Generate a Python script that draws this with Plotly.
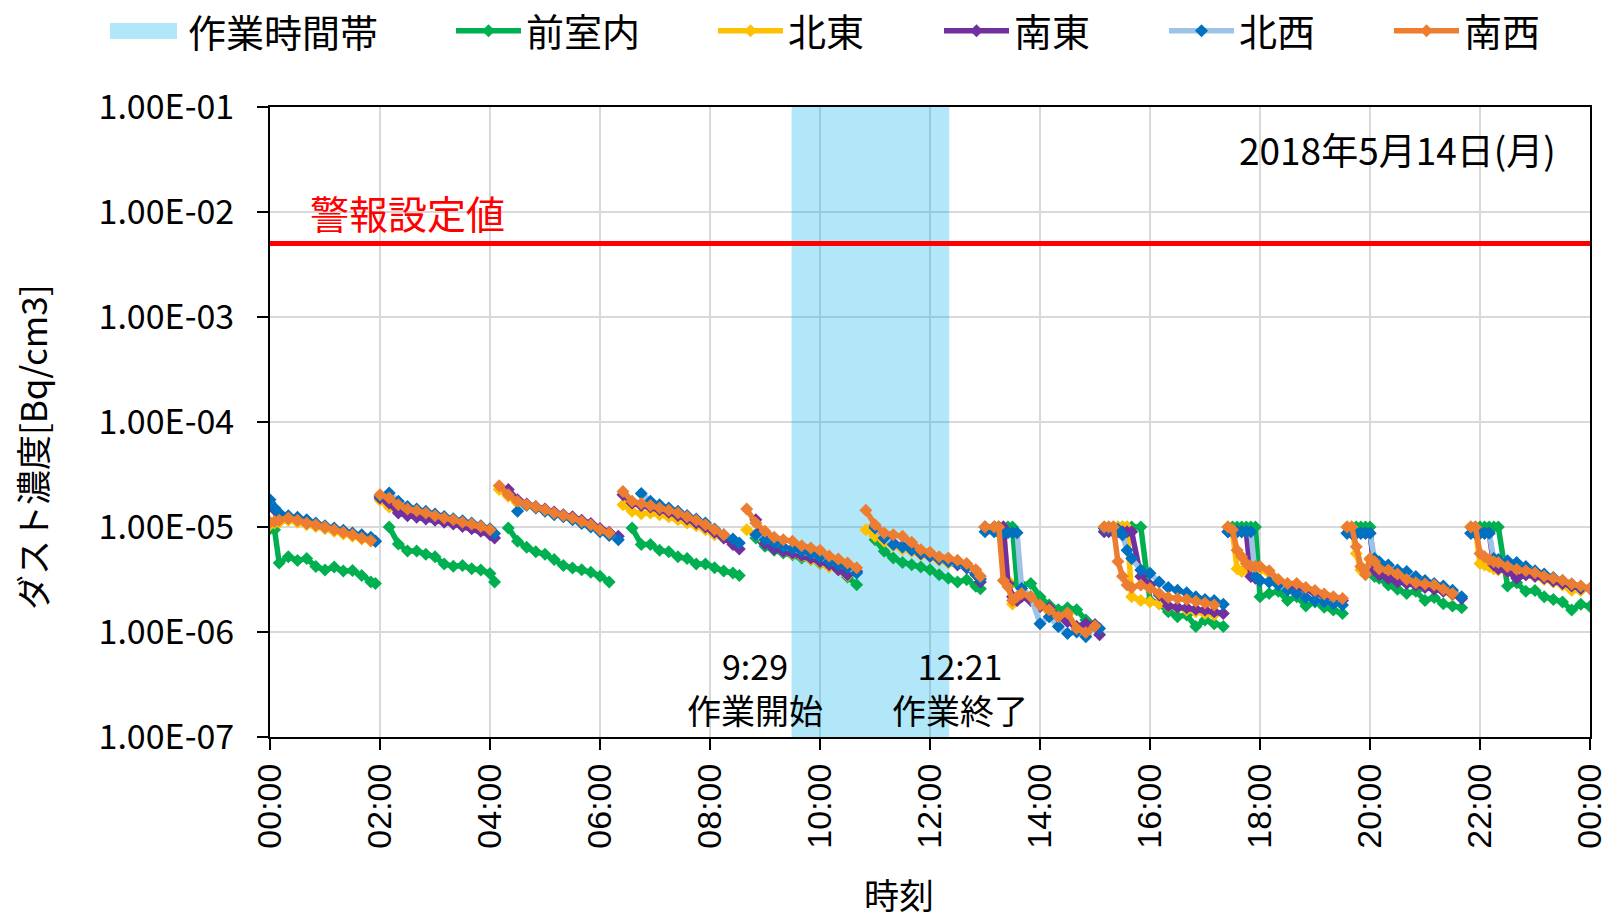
import plotly.graph_objects as go

UNIT = 1e-5  # values below are in units of 1e-5 Bq/cm3

# ---- time grid of each measurement segment ----
seg_times = [
    ["00:00","00:05","00:10","00:20","00:30","00:40","00:50","01:00","01:10","01:20","01:30","01:40","01:50","01:55"],
    ["02:00","02:10","02:20","02:30","02:40","02:50","03:00","03:10","03:20","03:30","03:40","03:50","04:00","04:05"],
    ["04:10","04:20","04:30","04:40","04:50","05:00","05:10","05:20","05:30","05:40","05:50","06:00","06:10","06:20"],
    ["06:25","06:35","06:45","06:55","07:05","07:15","07:25","07:35","07:45","07:55","08:05","08:15","08:25","08:32"],
    ["08:40","08:50","09:00","09:10","09:20","09:30","09:40","09:50","10:00","10:10","10:20","10:30","10:40"],
    ["10:50","11:00","11:10","11:20","11:30","11:40","11:50","12:00","12:10","12:20","12:30","12:40","12:50","12:55"],
    ["13:00","13:10","13:15","13:20","13:25","13:30","13:35","13:40","13:50","14:00","14:10","14:20","14:30","14:40","14:50","15:00","15:05"],
    ["15:10","15:15","15:20","15:25","15:30","15:35","15:40","15:50","16:00","16:10","16:20","16:30","16:40","16:50","17:00","17:10","17:20"],
    ["17:25","17:30","17:35","17:40","17:45","17:50","17:55","18:00","18:10","18:20","18:30","18:40","18:50","19:00","19:10","19:20","19:30"],
    ["19:35","19:40","19:45","19:50","19:55","20:00","20:05","20:10","20:20","20:30","20:40","20:50","21:00","21:10","21:20","21:30","21:40"],
    ["21:50","21:55","22:00","22:05","22:10","22:15","22:20","22:30","22:40","22:50","23:00","23:10","23:20","23:30","23:40","23:50","24:00"],
]

# ---- series values (x 1e-5) ----
zenshitsu = [  # 前室内
    [0.96,0.94,0.454,0.52,0.48,0.50,0.42,0.39,0.415,0.38,0.385,0.345,0.30,0.29],
    [None,1.0,0.69,0.59,0.59,0.55,0.52,0.445,0.422,0.43,0.40,0.39,0.36,0.30],
    [None,0.98,0.73,0.64,0.58,0.55,0.49,0.43,0.408,0.392,0.37,0.34,0.30,None],
    [None,0.98,0.68,0.68,0.60,0.58,0.52,0.50,0.445,0.445,0.41,0.38,0.365,0.345],
    [None,0.786,0.654,0.60,0.565,0.545,0.506,0.489,0.448,0.422,0.392,0.334,0.282],
    [None,0.758,0.586,0.506,0.46,0.437,0.416,0.392,0.35,0.325,0.30,0.315,0.272,0.258],
    [1.0,1.0,1.0,1.0,1.0,1.0,0.29,0.28,0.29,0.217,0.181,0.163,0.17,0.163,0.13,0.117,None],
    [1.0,1.0,1.0,1.0,1.0,1.0,1.0,1.0,0.20,0.186,0.156,0.14,0.145,0.113,0.13,0.12,0.113],
    [1.0,1.0,1.0,1.0,1.0,1.0,1.0,0.217,0.233,0.244,0.20,0.217,0.177,0.193,0.172,0.162,0.15],
    [1.0,1.0,1.0,1.0,1.0,1.0,0.337,0.325,0.28,0.255,0.233,0.244,0.20,0.213,0.186,0.177,0.17],
    [1.0,1.0,1.0,1.0,1.0,1.0,1.0,0.274,0.294,0.244,0.248,0.217,0.204,0.193,0.162,0.184,0.175],
]
hokuto = [  # 北東
    [1.05,1.09,1.11,1.16,1.11,1.05,1.01,0.96,0.91,0.86,0.815,0.77,0.73,None],
    [1.80,1.55,1.41,1.38,1.31,1.25,1.19,1.13,1.08,1.03,0.98,0.93,0.877,None],
    [2.27,1.96,1.69,1.61,1.52,1.43,1.32,1.26,1.19,1.11,1.03,0.93,0.865,None],
    [1.63,1.41,1.34,1.36,1.31,1.25,1.17,1.09,1.03,0.943,0.845,0.786,None,None],
    [0.943,0.845,0.73,0.645,0.586,0.555,0.526,0.489,0.454,0.416,0.392,0.345,None],
    [0.943,0.815,0.73,0.664,0.617,0.586,0.545,0.52,0.48,0.454,0.437,0.422,None,None],
    [1.0,1.0,1.0,1.0,0.31,0.185,0.20,0.225,0.209,0.175,0.156,0.135,0.146,0.113,0.094,0.113,None],
    [1.0,1.0,1.0,1.0,1.0,1.0,0.217,0.20,0.193,0.186,0.175,0.172,0.162,0.156,0.15,0.145,None],
    [1.0,0.9,0.40,0.376,0.40,0.42,0.40,0.39,0.363,0.30,0.287,0.28,0.26,0.244,0.225,0.213,None],
    [1.0,1.0,0.56,0.39,0.376,0.487,0.435,0.39,0.376,0.34,0.306,0.287,0.274,0.266,0.248,0.225,None],
    [1.0,0.95,0.45,0.435,0.42,0.40,0.39,0.376,0.356,0.35,0.337,0.317,0.30,0.28,0.25,0.248,None],
]
nanto = [  # 南東
    [1.69,1.46,1.31,1.22,1.17,1.09,1.05,1.0,0.96,0.91,0.86,0.815,0.77,0.73],
    [1.89,1.69,1.36,1.28,1.24,1.19,1.16,1.11,1.07,1.01,0.96,0.91,0.845,0.786],
    [None,2.27,1.82,1.66,1.57,1.48,1.39,1.31,1.25,1.16,1.08,0.97,0.89,0.815],
    [2.03,1.69,1.60,1.55,1.46,1.38,1.29,1.19,1.09,1.0,0.89,0.786,0.68,0.617],
    [None,1.17,0.694,0.617,0.586,0.565,0.535,0.506,0.47,0.437,0.392,0.35,0.378],
    [None,1.01,0.786,0.704,0.654,0.608,0.555,0.526,0.495,0.47,0.437,0.407,0.35,0.30],
    [1.0,1.0,1.0,1.0,0.29,0.217,0.20,0.217,0.20,0.175,0.17,0.14,0.125,0.113,0.12,0.117,0.094],
    [0.9,0.9,0.9,0.9,0.9,0.9,0.9,0.337,0.28,0.225,0.177,0.172,0.17,0.165,0.162,0.156,0.15],
    [0.9,0.9,0.9,0.9,0.9,0.337,0.325,0.31,0.30,0.29,0.274,0.266,0.255,0.237,0.22,0.209,0.20],
    [0.87,0.87,0.87,0.87,0.87,0.87,0.39,0.35,0.325,0.30,0.29,0.28,0.266,0.255,0.244,0.23,0.209],
    [0.87,0.87,0.87,0.87,0.87,0.435,0.40,0.376,0.325,0.35,0.34,0.325,0.306,0.29,0.274,0.26,None],
]
hokusei = [  # 北西
    [1.82,1.52,1.36,1.28,1.24,1.17,1.09,1.03,0.98,0.93,0.877,0.845,0.80,0.73],
    [1.96,2.11,1.76,1.57,1.48,1.41,1.33,1.26,1.20,1.15,1.09,1.03,0.96,0.865],
    [None,None,1.41,1.61,1.52,1.41,1.31,1.25,1.17,1.08,1.0,0.90,0.83,0.758],
    [None,None,2.08,1.76,1.63,1.52,1.41,1.29,1.19,1.09,0.957,0.845,0.77,0.704],
    [None,0.845,0.758,0.704,0.645,0.617,0.586,0.555,0.518,0.47,0.437,0.41,0.365],
    [None,0.98,0.786,0.68,0.645,0.608,0.565,0.535,0.495,0.47,0.448,0.416,0.36,0.32],
    [0.90,0.90,0.88,0.88,0.88,0.88,0.88,0.26,0.217,0.12,0.14,0.113,0.097,0.10,0.09,0.113,0.108],
    [0.97,0.97,0.97,0.95,0.84,0.60,0.50,0.39,0.363,0.30,0.266,0.25,0.237,0.217,0.204,0.20,0.184],
    [0.9,0.9,0.9,0.9,0.9,0.9,0.337,0.31,0.30,0.28,0.25,0.233,0.213,0.20,0.193,0.186,0.181],
    [0.87,0.87,0.87,0.87,0.87,0.87,0.50,0.467,0.435,0.39,0.376,0.337,0.31,0.29,0.274,0.25,0.217],
    [0.87,0.87,0.87,0.87,0.87,0.50,0.49,0.478,0.46,0.42,0.384,0.356,0.33,0.31,0.287,0.27,0.26],
]
nansei = [  # 南西
    [1.11,1.13,1.16,1.22,1.16,1.09,1.05,1.0,0.943,0.893,0.845,0.786,0.745,None],
    [2.03,1.89,1.63,1.48,1.43,1.36,1.28,1.22,1.17,1.11,1.07,1.01,0.943,None],
    [2.47,2.03,1.76,1.63,1.55,1.46,1.36,1.29,1.22,1.13,1.05,0.943,0.877,None],
    [2.18,1.76,1.67,1.60,1.52,1.44,1.36,1.25,1.16,1.05,0.943,0.845,None,None],
    [1.48,1.09,0.909,0.80,0.758,0.73,0.664,0.63,0.60,0.53,0.495,0.454,0.41],
    [1.44,1.05,0.877,0.845,0.815,0.715,0.608,0.574,0.52,0.506,0.482,0.45,0.392,0.339],
    [1.0,1.0,1.0,0.31,0.27,0.20,0.217,0.233,0.217,0.181,0.163,0.14,0.152,0.108,0.099,0.114,None],
    [1.0,1.0,1.0,0.47,0.34,0.28,0.266,0.28,0.26,0.233,0.213,0.209,0.204,0.196,0.189,0.181,None],
    [1.0,0.94,0.60,0.52,0.45,0.425,0.42,0.42,0.384,0.317,0.29,0.29,0.266,0.248,0.23,0.217,0.209],
    [1.0,1.0,0.65,0.42,0.35,0.50,0.467,0.40,0.39,0.356,0.317,0.294,0.287,0.28,0.255,0.233,None],
    [1.0,1.0,0.56,0.52,0.49,0.467,0.46,0.42,0.395,0.384,0.367,0.34,0.325,0.31,0.287,0.274,0.26],
]

series_names = ["前室内", "北東", "南東", "北西", "南西"]
series_data = [zenshitsu, hokuto, nanto, hokusei, nansei]
line_colors = ["#00B050", "#FFC000", "#7030A0", "#9DC3E6", "#ED7D31"]
marker_colors = ["#00B050", "#FFC000", "#7030A0", "#0070C0", "#ED7D31"]

WORK_LABEL = "作業時間帯"
WORK_START = "09:29"
WORK_END = "12:21"
ALERT_LEVEL = 5e-3
ALERT_LABEL = "警報設定値"
DATE_LABEL = "2018年5月14日(月)"
Y_TITLE = "ダスト濃度[Bq/cm3]"
X_TITLE = "時刻"
y_tickvals = [1e-7, 1e-6, 1e-5, 1e-4, 1e-3, 1e-2, 1e-1]
y_ticktext = ["1.00E-07", "1.00E-06", "1.00E-05", "1.00E-04", "1.00E-03", "1.00E-02", "1.00E-01"]
x_tickvals = [0, 2, 4, 6, 8, 10, 12, 14, 16, 18, 20, 22, 24]
x_ticktext = ["00:00", "02:00", "04:00", "06:00", "08:00", "10:00", "12:00",
              "14:00", "16:00", "18:00", "20:00", "22:00", "00:00"]


def hours(s):
    h, m = s.split(":")
    return int(h) + int(m) / 60.0


def short(s):
    h, m = s.split(":")
    return f"{int(h)}:{m}"


def build(segs):
    xs, ys = [], []
    for tlist, vlist in zip(seg_times, segs):
        for t, v in zip(tlist, vlist):
            xs.append(hours(t))
            ys.append(None if v is None else v * UNIT)
        xs.append(None)
        ys.append(None)
    return xs, ys


JP = "Noto Sans CJK JP"
BAND = "rgba(0,176,240,0.30)"
W, H = 1610, 921
L, R, T, B = 270, 20, 107, 184
PW, PH = W - L - R, H - T - B


def px_x(p):
    return (p - L) / PW


def px_y(p):
    return (H - B - p) / PH


fig = go.Figure()

# work period band (a filled trace so the grid shows through, tinted)
ws, we = hours(WORK_START), hours(WORK_END)
fig.add_trace(go.Scatter(
    x=[ws, we, we, ws, ws], y=[1e-7, 1e-7, 1e-1, 1e-1, 1e-7],
    mode="lines", fill="toself", fillcolor=BAND,
    line=dict(width=0, color=BAND), showlegend=False, hoverinfo="skip"))

legend_line_x = [461, 723, 949, 1174, 1399]  # pixel position of each legend entry
legend_y = 1 - 31 / H
for i, (name, segs, lc, mc) in enumerate(zip(series_names, series_data, line_colors, marker_colors)):
    xs, ys = build(segs)
    lg = "legend" if i == 0 else f"legend{i + 1}"
    fig.add_trace(go.Scatter(
        x=xs, y=ys, mode="lines+markers", name=name, connectgaps=False,
        legend=lg,
        line=dict(color=lc, width=5.5),
        marker=dict(symbol="diamond", size=10, color=mc, line=dict(width=0))))

# alert line
fig.add_trace(go.Scatter(
    x=[0, 24], y=[ALERT_LEVEL, ALERT_LEVEL], mode="lines",
    line=dict(color="#FF0000", width=5), showlegend=False, hoverinfo="skip"))

legends = {}
for i, px in enumerate(legend_line_x):
    key = "legend" if i == 0 else f"legend{i + 1}"
    legends[key] = dict(orientation="h", xref="container", yref="container",
                        x=(px - 10) / W, xanchor="left", y=legend_y, yanchor="middle",
                        font=dict(family=JP, size=38), itemwidth=65,
                        bgcolor="rgba(0,0,0,0)", borderwidth=0)

# legend swatch for the work period band
fig.add_shape(type="rect", xref="paper", yref="paper",
              x0=px_x(110), x1=px_x(177), y0=px_y(39), y1=px_y(23),
              fillcolor=BAND, line=dict(width=0))
fig.add_annotation(x=px_x(186), y=px_y(31), xref="paper", yref="paper", text=WORK_LABEL,
                   showarrow=False, xanchor="left", yanchor="middle",
                   font=dict(family=JP, size=38, color="black"))

ann_font = dict(family=JP, size=34, color="black")
fig.add_annotation(x=0.69, y=-2.0, xref="x", yref="y", text=ALERT_LABEL,
                   showarrow=False, xanchor="left", yanchor="middle",
                   font=dict(family=JP, size=39, color="#FF0000"))
fig.add_annotation(x=20.5, y=-1.4, xref="x", yref="y", text=DATE_LABEL,
                   showarrow=False, xanchor="center", yanchor="middle",
                   font=dict(family=JP, size=37, color="black"))
fig.add_annotation(x=8.81, y=-6.53, xref="x", yref="y",
                   text=short(WORK_START) + "<br>作業開始",
                   showarrow=False, xanchor="center", yanchor="middle", align="center",
                   font=ann_font)
fig.add_annotation(x=12.54, y=-6.53, xref="x", yref="y",
                   text=short(WORK_END) + "<br>作業終了",
                   showarrow=False, xanchor="center", yanchor="middle", align="center",
                   font=ann_font)
# axis titles
fig.add_annotation(x=px_x(899), y=px_y(893), xref="paper", yref="paper", text=X_TITLE,
                   showarrow=False, xanchor="center", yanchor="middle",
                   font=dict(family=JP, size=35, color="black"))
fig.add_annotation(x=px_x(31), y=px_y(447), xref="paper", yref="paper", text=Y_TITLE,
                   showarrow=False, xanchor="center", yanchor="middle", textangle=-90,
                   font=dict(family=JP, size=35, color="black"))

fig.update_layout(
    width=W, height=H,
    margin=dict(l=L, r=R, t=T, b=B, autoexpand=False),
    paper_bgcolor="white", plot_bgcolor="white",
    font=dict(family=JP, color="black"),
    showlegend=True,
    xaxis=dict(range=[0, 24], tickvals=x_tickvals, ticktext=x_ticktext, tickangle=-90,
               tickfont=dict(family="Liberation Sans", size=34), ticklabeloverflow="allow",
               automargin=False,
               showgrid=True, gridcolor="#D9D9D9", gridwidth=1.5,
               showline=True, linecolor="black", linewidth=2, mirror=True,
               ticks="outside", ticklen=11, tickwidth=2, tickcolor="black",
               zeroline=False),
    yaxis=dict(type="log", range=[-7, -1], tickvals=y_tickvals, ticktext=y_ticktext,
               tickfont=dict(family=JP, size=34), ticklabelstandoff=16,
               automargin=False,
               showgrid=True, gridcolor="#D9D9D9", gridwidth=1.5,
               showline=True, linecolor="black", linewidth=2, mirror=True,
               ticks="outside", ticklen=11, tickwidth=2, tickcolor="black",
               zeroline=False),
    **legends,
)

fig.write_html("out.html", config={"displayModeBar": False})

# remove the default page margin so the figure sits at the window origin
with open("out.html", "r", encoding="utf-8") as f:
    html = f.read()
html = html.replace("<head>", "<head><style>html,body{margin:0;padding:0;}</style>", 1)
with open("out.html", "w", encoding="utf-8") as f:
    f.write(html)
